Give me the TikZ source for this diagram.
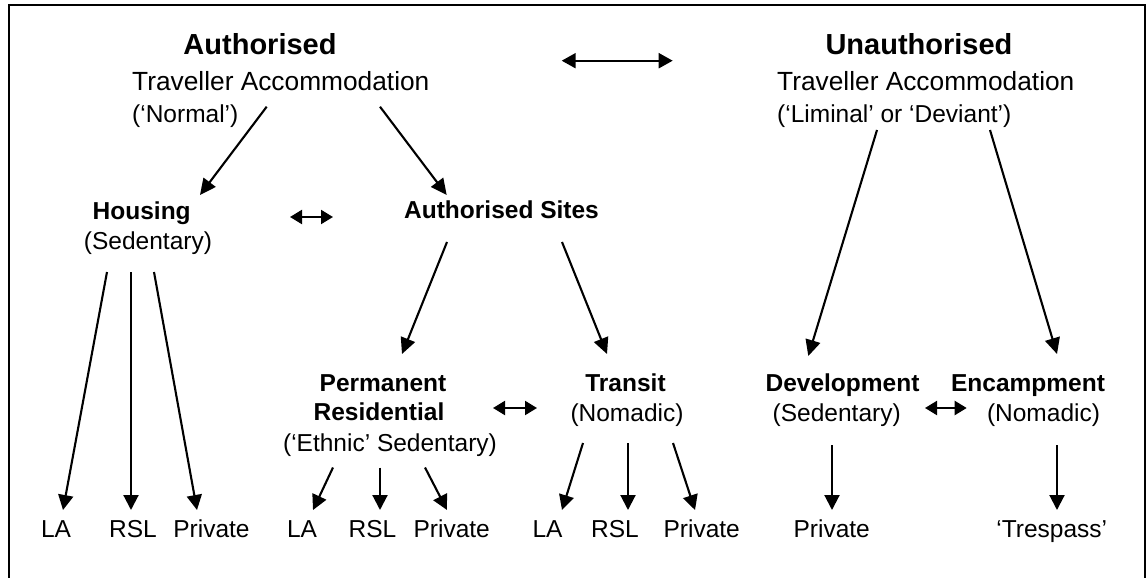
\documentclass[tikz,border=0pt]{standalone}
\usepackage{fontspec}
\setmainfont{Liberation Sans}
\usetikzlibrary{arrows.meta,calc}
\begin{document}
\begin{tikzpicture}[x=1pt,y=-1pt,
  txt/.style={inner sep=0pt,anchor=base,font=\fontsize{24.5}{29}\selectfont},
  btxt/.style={txt,font=\fontsize{24.5}{29}\selectfont\bfseries},
  head/.style={inner sep=0pt,anchor=base,font=\fontsize{29}{34}\selectfont\bfseries},
  sub/.style={inner sep=0pt,anchor=base west,font=\fontsize{26.3}{31}\selectfont},
  subp/.style={inner sep=0pt,anchor=base west,font=\fontsize{24.5}{29}\selectfont},
  arr/.style={line width=2.1pt,-{Triangle[length=16pt,width=15pt]}},
  larr/.style={line width=2.1pt,-{Triangle[length=15pt,width=15pt]}},
  dbl/.style={line width=2.1pt,{Triangle[length=12pt,width=14pt]}-{Triangle[length=12pt,width=14pt]}},
  tdbl/.style={line width=2.1pt,{Triangle[length=14pt,width=15pt]}-{Triangle[length=14pt,width=15pt]}},
  frame/.style={line width=2pt}]
\useasboundingbox (0,0) rectangle (1146,578);
\draw[frame] (9,580) -- (9,5) -- (1145,5) -- (1145,580);

% top headings
\node[head] (auth) at (260,55) {Authorised};
\node[sub] (tal) at (132,90) {Traveller Accommodation};
\node[subp] (norm) at (132,122) {(‘Normal’)};
\node[head] (unauth) at (919,55) {Unauthorised};
\node[sub] (tar) at (777,90) {Traveller Accommodation};
\node[subp] (lim) at (777,122) {(‘Liminal’ or ‘Deviant’)};

% second row
\node[btxt] (hous) at (141.7,219) {Housing};
\node[txt] (hsed) at (148,249) {(Sedentary)};
\node[btxt] (sites) at (501.5,218) {Authorised Sites};

% third row
\node[btxt] (perm) at (383,391.7) {Permanent};
\node[btxt] (resid) at (379,420) {Residential};
\node[txt] (eth) at (390,451.5) {(‘Ethnic’ Sedentary)};
\node[btxt] (trans) at (625.5,391.7) {Transit};
\node[txt] (tnom) at (627,421.7) {(Nomadic)};
\node[btxt] (dev) at (842.5,391.7) {Development};
\node[txt] (dsed) at (836.7,421.7) {(Sedentary)};
\node[btxt] (enc) at (1028,391.7) {Encampment};
\node[txt] (enom) at (1043.5,421.7) {(Nomadic)};

% leaves
\node[txt] (la1) at (56,537) {LA};
\node[txt] (rsl1) at (133,537) {RSL};
\node[txt] (pr1) at (211.5,537) {Private};
\node[txt] (la2) at (302,537) {LA};
\node[txt] (rsl2) at (372.5,537) {RSL};
\node[txt] (pr2) at (451.7,537) {Private};
\node[txt] (la3) at (547.5,537) {LA};
\node[txt] (rsl3) at (615,537) {RSL};
\node[txt] (pr3) at (701.7,537) {Private};
\node[txt] (pr4) at (831.7,537) {Private};
\node[txt] (tres) at (1051.7,537) {‘Trespass’};

% top arrows
\draw[arr] ($(tal.base west)+(134.7,16.7)$) -- ($(hous.base)+(58.3,-24)$);
\draw[arr] ($(tal.base west)+(248,16.7)$) -- ($(sites.base)+(-54.8,-23)$);
\draw[tdbl] ($(auth.base)+(301.7,5.7)$) -- ($(unauth.base)+(-246.3,5.7)$);
\draw[arr] ($(lim.base west)+(100,8)$) -- ($(dev.base)+(-34.2,-35.7)$);
\draw[arr] ($(lim.base west)+(213,8)$) -- ($(enc.base)+(29,-37.7)$);

% authorised sites arrows
\draw[arr] ($(sites.base)+(-54.5,24)$) -- ($(perm.base)+(19,-37.7)$);
\draw[arr] ($(sites.base)+(60.5,24)$) -- ($(trans.base)+(-18.5,-37.7)$);
\draw[dbl] ($(hous.base)+(148.3,-2)$) -- ($(sites.base)+(-168.5,-1)$);

% housing leaves
\draw[larr] ($(hsed.base)+(-41,23)$) -- ($(la1.base)+(7,-27)$);
\draw[larr] ($(hsed.base)+(-17,23)$) -- ($(rsl1.base)+(-2,-27)$);
\draw[larr] ($(hsed.base)+(6,23)$) -- ($(pr1.base)+(-14.5,-27)$);

% permanent residential leaves
\draw[larr] ($(eth.base)+(-57,16)$) -- ($(la2.base)+(11,-27)$);
\draw[larr] ($(eth.base)+(-10,16)$) -- ($(rsl2.base)+(7.5,-27)$);
\draw[larr] ($(eth.base)+(35,16)$) -- ($(pr2.base)+(-4.7,-27)$);
\draw[dbl] ($(resid.base)+(114,-12)$) -- ($(tnom.base)+(-90,-13.7)$);

% transit leaves
\draw[larr] ($(tnom.base)+(-44,21.3)$) -- ($(la3.base)+(14.5,-27)$);
\draw[larr] ($(tnom.base)+(1,21.3)$) -- ($(rsl3.base)+(13,-27)$);
\draw[larr] ($(tnom.base)+(46,21.3)$) -- ($(pr3.base)+(-6.7,-27)$);

% unauthorised leaves
\draw[dbl] ($(dsed.base)+(88.3,-13.7)$) -- ($(enom.base)+(-76.8,-13.7)$);
\draw[larr] ($(dsed.base)+(-4.7,23.3)$) -- ($(pr4.base)+(0.3,-27)$);
\draw[larr] ($(enom.base)+(13.5,23.3)$) -- ($(tres.base)+(5.3,-27)$);
\end{tikzpicture}
\end{document}
